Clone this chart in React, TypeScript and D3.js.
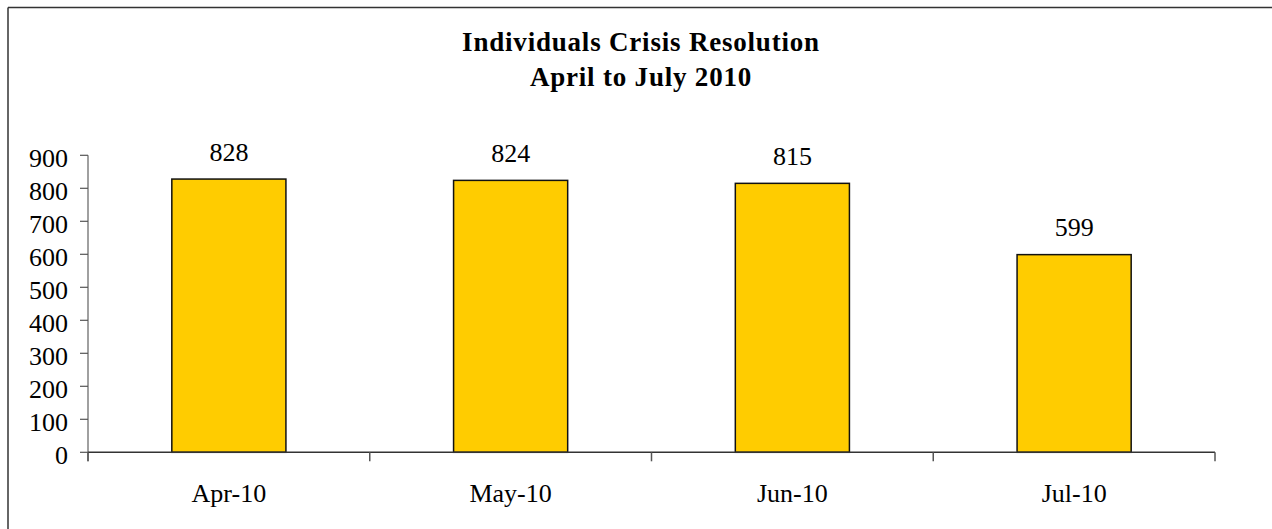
import React from "react";
import * as d3 from "d3";

const categories = ["Apr-10", "May-10", "Jun-10", "Jul-10"];
const values = [828, 824, 815, 599];
const yTicks = [0, 100, 200, 300, 400, 500, 600, 700, 800, 900];
const titleLines = ["Individuals Crisis Resolution", "April to July 2010"];

const W = 1272;
const H = 529;
const left = 88;
const right = 1215;
const top = 155.3;
const bottom = 452.3;
const font = "'Liberation Serif', 'Times New Roman', serif";

export default function App() {
  const x = d3.scaleBand<string>().domain(categories).range([left, right]).paddingInner(0.595).paddingOuter(0.2975);
  const y = d3.scaleLinear().domain([0, 900]).range([bottom, top]);
  const bounds = [left, ...categories.map((c) => (x(c) as number) + x.bandwidth() + (x.step() - x.bandwidth()) / 2)];
  const txt = { fontFamily: font, fontSize: 26, fill: "#000" } as React.CSSProperties;
  return (
    <svg width={W} height={H} style={{ position: "absolute", left: 0, top: 0, background: "#fff" }}>
      <line x1={8} y1={7.5} x2={W} y2={7.5} stroke="#333" strokeWidth={1.5} />
      <line x1={8} y1={7.5} x2={8} y2={H} stroke="#333" strokeWidth={1.5} />
      {titleLines.map((t, i) => (
        <text key={t} x={641} y={50.5 + i * 35.5} textAnchor="middle" style={{ fontFamily: font, fontWeight: "bold", fontSize: 27, letterSpacing: "0.8px", fill: "#000" }}>
          {t}
        </text>
      ))}
      {/* y axis */}
      <line x1={left} y1={top} x2={left} y2={bottom + 9} stroke="#808080" strokeWidth={1.5} />
      {yTicks.map((t) => (
        <g key={t}>
          <line x1={left - 8} x2={left} y1={y(t)} y2={y(t)} stroke="#555" strokeWidth={1.2} />
          <text x={68} y={y(t) + 12} textAnchor="end" style={txt}>
            {t}
          </text>
        </g>
      ))}
      {/* bars */}
      {categories.map((c, i) => (
        <g key={c}>
          <rect x={x(c)} y={y(values[i])} width={x.bandwidth()} height={bottom - y(values[i])} fill="#FFCC00" stroke="#111" strokeWidth={1.5} />
          <text x={(x(c) as number) + x.bandwidth() / 2} y={y(values[i]) - 18.5} textAnchor="middle" style={txt}>
            {values[i]}
          </text>
          <text x={(x(c) as number) + x.bandwidth() / 2} y={501.5} textAnchor="middle" style={txt}>
            {c}
          </text>
        </g>
      ))}
      {/* x axis */}
      <line x1={left} y1={bottom} x2={right} y2={bottom} stroke="#333" strokeWidth={1.5} />
      {bounds.map((b, i) => (
        <line key={i} x1={b} x2={b} y1={bottom} y2={bottom + 9} stroke="#555" strokeWidth={1.5} />
      ))}
    </svg>
  );
}
